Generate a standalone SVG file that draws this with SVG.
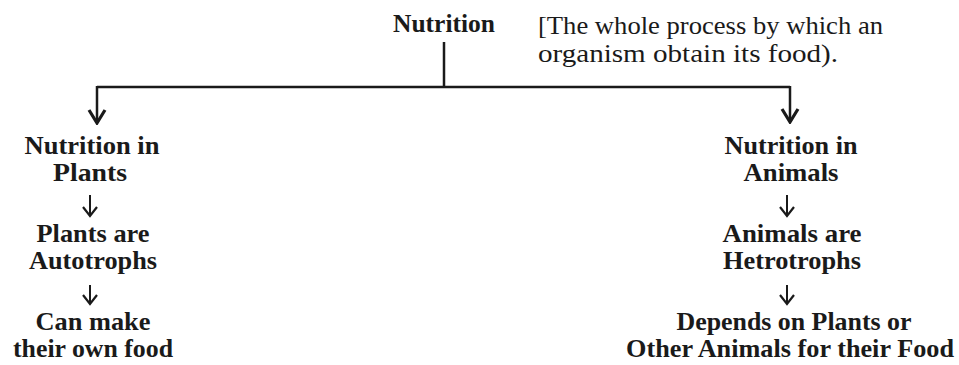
<svg xmlns="http://www.w3.org/2000/svg" width="959" height="365" viewBox="0 0 959 365">
  <style>
    .bg { fill: #ffffff; }
    .node { font-family: "Liberation Serif", "Times New Roman", serif; font-weight: bold; font-size: 26px; fill: #1a1a1a; text-anchor: middle; }
    .head { font-family: "Liberation Serif", "Times New Roman", serif; font-weight: bold; font-size: 26px; fill: #1a1a1a; text-anchor: middle; }
    .note { font-family: "Liberation Serif", "Times New Roman", serif; font-size: 26px; fill: #1a1a1a; }
    .wire { stroke: #1a1a1a; stroke-width: 2.5; fill: none; }
    .thin { stroke: #1a1a1a; stroke-width: 2; fill: none; }
  </style>
  <defs>
    <marker id="bigHead" markerUnits="userSpaceOnUse" viewBox="-16 -11 18 22" refX="0" refY="0" markerWidth="18" markerHeight="22" orient="auto">
      <path d="M-13,-8 L0,0 L-13,8" fill="none" stroke="#1a1a1a" stroke-width="3.2" stroke-linejoin="miter"/>
    </marker>
    <marker id="smallHead" markerUnits="userSpaceOnUse" viewBox="-12 -10 14 20" refX="0" refY="0" markerWidth="14" markerHeight="20" orient="auto">
      <path d="M-9,-7 L0,0 L-9,7" fill="none" stroke="#1a1a1a" stroke-width="2.2"/>
    </marker>
  </defs>
  <rect class="bg" x="0" y="0" width="959" height="365"/>

  <g id="connectors">
    <path class="wire" d="M444,42 L444,87"/>
    <path class="wire" d="M97,87 L790,87"/>
    <path class="wire" d="M97,86 L97,123" marker-end="url(#bigHead)"/>
    <path class="wire" d="M790,86 L790,122" marker-end="url(#bigHead)"/>
    <path class="thin" d="M90,195 L90,216" marker-end="url(#smallHead)"/>
    <path class="thin" d="M90,285 L90,304" marker-end="url(#smallHead)"/>
    <path class="thin" d="M787,195 L787,216" marker-end="url(#smallHead)"/>
    <path class="thin" d="M787,285 L787,304" marker-end="url(#smallHead)"/>
  </g>

  <g id="nutrition">
    <text class="head" x="444" y="32" textLength="102" lengthAdjust="spacingAndGlyphs">Nutrition</text>
  </g>
  <g id="definition">
    <text class="note" x="538" y="34" textLength="345" lengthAdjust="spacingAndGlyphs">[The whole process by which an</text>
    <text class="note" x="538" y="62" textLength="300" lengthAdjust="spacingAndGlyphs">organism obtain its food).</text>
  </g>

  <g id="nutrition-in-plants">
    <text class="node" x="92" y="154" textLength="135" lengthAdjust="spacingAndGlyphs">Nutrition in</text>
    <text class="node" x="90" y="181" textLength="74" lengthAdjust="spacingAndGlyphs">Plants</text>
  </g>
  <g id="plants-are-autotrophs">
    <text class="node" x="93" y="242" textLength="113" lengthAdjust="spacingAndGlyphs">Plants are</text>
    <text class="node" x="93" y="269" textLength="128" lengthAdjust="spacingAndGlyphs">Autotrophs</text>
  </g>
  <g id="can-make-food">
    <text class="node" x="93" y="330" textLength="115" lengthAdjust="spacingAndGlyphs">Can make</text>
    <text class="node" x="93" y="357" textLength="160" lengthAdjust="spacingAndGlyphs">their own food</text>
  </g>

  <g id="nutrition-in-animals">
    <text class="node" x="791" y="154" textLength="133" lengthAdjust="spacingAndGlyphs">Nutrition in</text>
    <text class="node" x="791" y="181" textLength="95" lengthAdjust="spacingAndGlyphs">Animals</text>
  </g>
  <g id="animals-are-hetrotrophs">
    <text class="node" x="792" y="242" textLength="139" lengthAdjust="spacingAndGlyphs">Animals are</text>
    <text class="node" x="792" y="269" textLength="138" lengthAdjust="spacingAndGlyphs">Hetrotrophs</text>
  </g>
  <g id="depends-on-others">
    <text class="node" x="794" y="330" textLength="235" lengthAdjust="spacingAndGlyphs">Depends on Plants or</text>
    <text class="node" x="790" y="357" textLength="328" lengthAdjust="spacingAndGlyphs">Other Animals for their Food</text>
  </g>
</svg>
